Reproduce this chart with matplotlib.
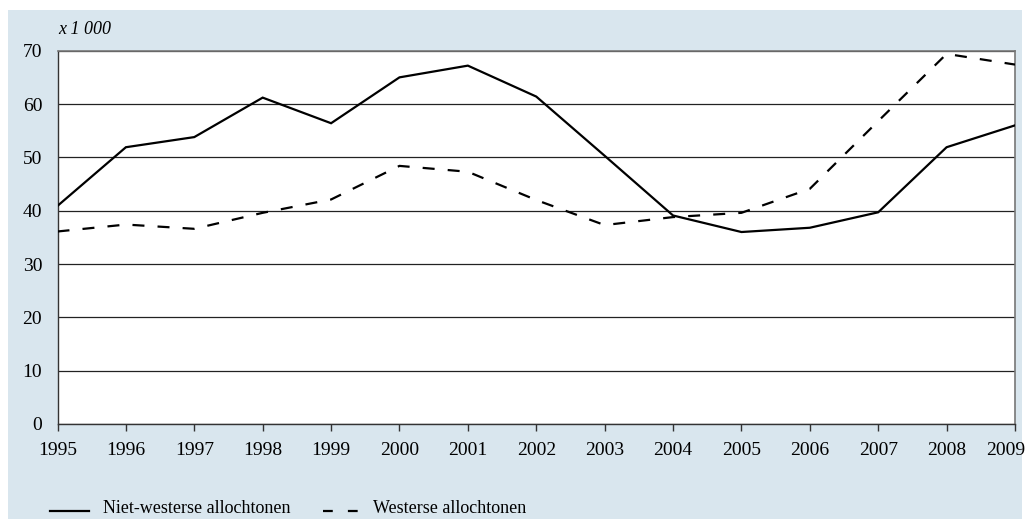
import matplotlib.pyplot as plt
from matplotlib.patches import Rectangle
from matplotlib.lines import Line2D
from matplotlib.transforms import ScaledTranslation

# jaren en aantallen (x 1 000)
jaren = [1995, 1996, 1997, 1998, 1999, 2000, 2001, 2002,
         2003, 2004, 2005, 2006, 2007, 2008, 2009]
niet_westers = [40.9, 51.9, 53.8, 61.2, 56.4, 65.0, 67.2, 61.4,
                50.3, 39.1, 36.0, 36.8, 39.7, 51.9, 56.0]
westers = [36.1, 37.4, 36.6, 39.6, 42.1, 48.4, 47.3, 42.0,
           37.3, 38.8, 39.6, 44.1, 56.8, 69.4, 67.4]
y_ticks = [0, 10, 20, 30, 40, 50, 60, 70]

plt.rcParams['font.family'] = ['Liberation Serif', 'DejaVu Serif']
plt.rcParams['font.size'] = 14

blauw = '#d9e6ee'

fig = plt.figure(figsize=(10.28, 5.19), dpi=100, facecolor='white')
# lichtblauwe achtergrond
fig.patches.append(Rectangle((8 / 1028, 0), 1014 / 1028, 1 - 10 / 519,
                             transform=fig.transFigure, facecolor=blauw,
                             edgecolor='none', zorder=-5))

ax = fig.add_axes([57.5 / 1028, 1 - 424 / 519, (1015 - 57.5) / 1028, (424 - 50.7) / 519])
ax.set_zorder(2)
ax.set_facecolor('white')

ax.plot(jaren, niet_westers, color='black', lw=1.6, solid_joinstyle='miter', zorder=3)
ax.plot(jaren, westers, color='black', lw=1.6, dashes=(5.4, 5.9), zorder=3)

ax.set_xlim(1995, 2009)
ax.set_ylim(0, 70)
ax.set_xticks(jaren)
ax.set_yticks(y_ticks)
ax.yaxis.grid(True, color='#222222', lw=0.9)
ax.set_axisbelow(True)

ax.tick_params(axis='x', direction='out', length=5, width=1, color='#333333', pad=8)
ax.tick_params(axis='y', length=0, pad=11)
for s in ['top', 'right']:
    ax.spines[s].set_color('#777777')
    ax.spines[s].set_linewidth(1.2)
for s in ['left', 'bottom']:
    ax.spines[s].set_color('#333333')
    ax.spines[s].set_linewidth(1.0)

# laatste jaartal iets naar links, zoals in het origineel
laatste = ax.get_xticklabels()[-1]
laatste.set_transform(laatste.get_transform() + ScaledTranslation(-9 / 100, 0, fig.dpi_scale_trans))

fig.text(58 / 1028, 1 - 30 / 519, 'x 1 000', style='italic', fontsize=13,
         ha='left', va='center')

# legenda onderaan
yl = 1 - 511 / 519
yt = 1 - 513 / 519
fig.add_artist(Line2D([50 / 1028, 89 / 1028], [yl, yl], color='black', lw=1.6,
                      transform=fig.transFigure))
fig.text(103 / 1028, yt, 'Niet-westerse allochtonen', fontsize=13, va='baseline')
fig.add_artist(Line2D([323 / 1028, 358 / 1028], [yl, yl], color='black', lw=1.6,
                      dashes=(4.4, 6.8), transform=fig.transFigure))
fig.text(373 / 1028, yt, 'Westerse allochtonen', fontsize=13, va='baseline')

fig.savefig('out.png', dpi=100, facecolor='white')
